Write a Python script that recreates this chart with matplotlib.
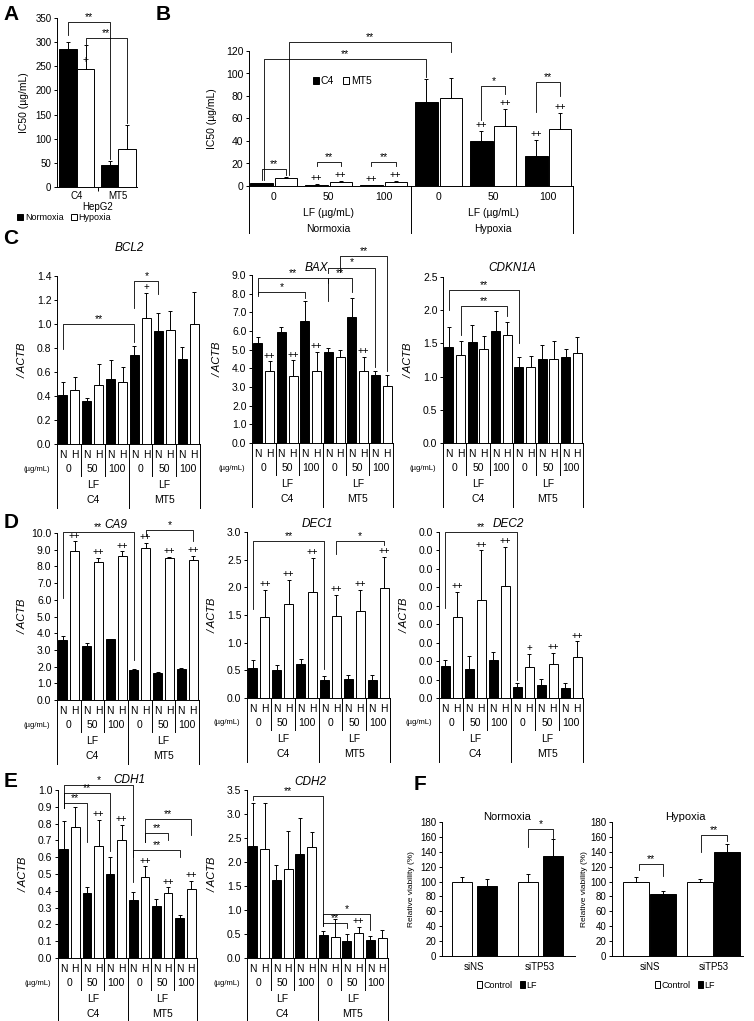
import numpy as np
import matplotlib
matplotlib.use("Agg")
import matplotlib.pyplot as plt
from matplotlib.patches import Patch

plt.rcParams['font.family'] = ['Liberation Sans', 'DejaVu Sans']

W, H = 754, 1021

# -- A : IC50 in HepG2
hepg2_lines = ['C4', 'MT5']
a_norm = [285, 45]
a_norm_err = [15, 8]
a_hyp = [245, 78]
a_hyp_err = [50, 50]

# -- B : IC50 vs LF dose
b_doses = ['0', '50', '100', '0', '50', '100']
b_c4 = [2.5, 1.0, 0.5, 75, 40, 27]
b_c4_err = [0.6, 0.5, 0.3, 20, 9, 14]
b_mt5 = [7.5, 3.5, 3.5, 78, 53, 51]
b_mt5_err = [0.8, 0.6, 0.6, 18, 15, 14]

# -- C/D/E : gene expression (N = normoxia, H = hypoxia)
cond_labels = ['N', 'H'] * 6
dose_labels = ['0', '50', '100'] * 2
cell_labels = ['C4', 'MT5']

bcl2_n = [0.41, 0.36, 0.54, 0.74, 0.94, 0.71]
bcl2_n_err = [0.11, 0.02, 0.16, 0.08, 0.15, 0.10]
bcl2_h = [0.45, 0.49, 0.52, 1.05, 0.95, 1.00]
bcl2_h_err = [0.11, 0.18, 0.12, 0.21, 0.16, 0.27]

bax_n = [5.35, 5.97, 6.56, 4.88, 6.74, 3.64]
bax_n_err = [0.35, 0.23, 1.07, 0.20, 1.01, 0.23]
bax_h = [3.87, 3.60, 3.87, 4.63, 3.87, 3.07]
bax_h_err = [0.50, 0.82, 1.00, 0.33, 0.76, 0.55]

cdkn1a_n = [1.44, 1.52, 1.69, 1.15, 1.27, 1.29]
cdkn1a_n_err = [0.30, 0.26, 0.30, 0.14, 0.20, 0.12]
cdkn1a_h = [1.32, 1.42, 1.62, 1.14, 1.26, 1.35]
cdkn1a_h_err = [0.22, 0.19, 0.20, 0.17, 0.28, 0.24]

ca9_n = [3.60, 3.25, 3.65, 1.78, 1.62, 1.88]
ca9_n_err = [0.25, 0.18, 0.03, 0.10, 0.04, 0.05]
ca9_h = [8.90, 8.25, 8.65, 9.10, 8.50, 8.40]
ca9_h_err = [0.60, 0.25, 0.25, 0.30, 0.05, 0.25]

dec1_n = [0.54, 0.50, 0.61, 0.32, 0.34, 0.33]
dec1_n_err = [0.14, 0.10, 0.10, 0.08, 0.08, 0.09]
dec1_h = [1.46, 1.70, 1.92, 1.48, 1.57, 1.99]
dec1_h_err = [0.50, 0.44, 0.61, 0.39, 0.39, 0.56]

dec2_n = [1.72, 1.59, 2.08, 0.60, 0.72, 0.56]
dec2_n_err = [0.32, 0.67, 0.42, 0.23, 0.29, 0.25]
dec2_h = [4.39, 5.30, 6.07, 1.68, 1.83, 2.22]
dec2_h_err = [1.36, 2.70, 2.12, 0.73, 0.63, 0.85]
dec2_ticklabels = ['0.0'] * 10

cdh1_n = [0.65, 0.385, 0.50, 0.345, 0.31, 0.24]
cdh1_n_err = [0.165, 0.04, 0.10, 0.05, 0.04, 0.015]
cdh1_h = [0.78, 0.665, 0.705, 0.485, 0.385, 0.41]
cdh1_h_err = [0.12, 0.155, 0.085, 0.06, 0.035, 0.05]

cdh2_n = [2.33, 1.63, 2.16, 0.48, 0.36, 0.38]
cdh2_n_err = [0.90, 0.31, 0.76, 0.08, 0.15, 0.07]
cdh2_h = [2.28, 1.86, 2.31, 0.44, 0.53, 0.41]
cdh2_h_err = [0.94, 0.79, 0.31, 0.37, 0.12, 0.18]

# -- F : relative viability
f_groups = ['siNS', 'siTP53']
f_norm_ctrl = [100, 100]
f_norm_ctrl_err = [6, 10]
f_norm_lf = [94, 134]
f_norm_lf_err = [10, 23]
f_hyp_ctrl = [100, 100]
f_hyp_ctrl_err = [6, 3]
f_hyp_lf = [83, 140]
f_hyp_lf_err = [4, 10]

TICK_FS = 7.5
LAB_FS = 7.5
LW = 0.7

fig = plt.figure(figsize=(W / 100, H / 100), dpi=100)


def px(x0, y0, x1, y1):
    return [x0 / W, 1 - y1 / H, (x1 - x0) / W, (y1 - y0) / H]


def base_axes(rect, fs=TICK_FS):
    ax = fig.add_axes(px(*rect))
    for s in ('top', 'right'):
        ax.spines[s].set_visible(False)
    for s in ('left', 'bottom'):
        ax.spines[s].set_linewidth(LW)
    ax.tick_params(axis='y', direction='out', length=2.5, width=LW,
                   labelsize=fs, pad=1.5)
    return ax


def bars(ax, x, vals, errs, face, width):
    ax.bar(x, vals, width=width, color=face, edgecolor='black', linewidth=LW, zorder=2)
    ax.errorbar(x, vals, yerr=[np.zeros(len(vals)), errs], fmt='none',
                ecolor='black', elinewidth=LW, capsize=1.5, capthick=LW, zorder=3)


def bracket(ax, x1, x2, top, b1, b2, label, fs=7.5):
    ax.plot([x1, x1, x2, x2], [b1, top, top, b2], color='black', lw=0.6,
            clip_on=False, zorder=4)
    ax.text((x1 + x2) / 2, top, label, ha='center', va='bottom',
            fontsize=fs, clip_on=False)


def below(ax, x, dy, s, fs=LAB_FS, **kw):
    ax.annotate(s, xy=(x, 0), xycoords=('data', 'axes fraction'),
                xytext=(0, -dy), textcoords='offset pixels', ha='center',
                va='center', fontsize=fs, annotation_clip=False, **kw)


def vline_below(ax, x, dy):
    frac = dy / ax.bbox.height
    ax.plot([x, x], [0, -frac], transform=ax.get_xaxis_transform(),
            color='black', lw=LW, clip_on=False)


def side_label(ax, s, dx, fs=7, **kw):
    ax.text(-dx / ax.bbox.width, 0.5, s, transform=ax.transAxes, rotation=90,
            ha='center', va='center', fontsize=fs, **kw)


def gene_panel(rect, name, n, n_err, h, h_err, ymax, step, title_xy,
               brackets=(), marks=(), ticklabels=None):
    ax = base_axes(rect)
    x = np.arange(12)
    bars(ax, x[0::2], n, n_err, 'black', 0.75)
    bars(ax, x[1::2], h, h_err, 'white', 0.75)
    ax.set_xlim(-0.5, 11.5)
    ax.set_ylim(0, ymax)
    ticks = np.arange(0, ymax + step / 2, step)
    ax.set_yticks(ticks)
    if ticklabels is None:
        ticklabels = ['%.1f' % t for t in ticks]
    ax.set_yticklabels(ticklabels)
    ax.set_xticks([])
    side_label(ax, '/ ACTB', 34, fs=8, fontstyle='italic')
    ax.text(title_xy[0], title_xy[1], name, ha='center', va='center',
            fontsize=8.5, fontstyle='italic', clip_on=False)
    # value labels below the axis
    vals = np.column_stack([n, h]).ravel()
    errs = np.column_stack([n_err, h_err]).ravel()
    for i, c in enumerate(cond_labels):
        below(ax, i, 11, c)
    for g, d in enumerate(dose_labels):
        below(ax, 2 * g + 0.5, 25, d)
    for k, cl in enumerate(cell_labels):
        below(ax, 6 * k + 2.5, 41, 'LF')
        below(ax, 6 * k + 2.5, 56, cl)
    ax.annotate('(µg/mL)', xy=(0, 0), xycoords='axes fraction', xytext=(-7, -25),
                textcoords='offset pixels', ha='right', va='center', fontsize=5.5,
                annotation_clip=False)
    for xd in (1.5, 3.5, 7.5, 9.5):
        vline_below(ax, xd, 32)
    for xd in (-0.5, 5.5, 11.5):
        vline_below(ax, xd, 64)
    for lab, i1, i2, top, b1, b2 in brackets:
        bracket(ax, i1, i2, top, b1, b2, lab)
    for i, s in marks:
        ax.text(i, vals[i] + errs[i] + ymax * 0.005, s, ha='center', va='bottom',
                fontsize=7, clip_on=False)
    return ax


# ---------------- Panel A
axA = base_axes((57, 18, 137, 187), fs=7)
ga = np.arange(2)
bars(axA, ga - 0.21, a_norm, a_norm_err, 'black', 0.42)
bars(axA, ga + 0.21, a_hyp, a_hyp_err, 'white', 0.42)
axA.set_xlim(-0.48, 1.45)
axA.set_ylim(0, 350)
axA.set_yticks(np.arange(0, 351, 50))
axA.set_xticks(ga)
axA.set_xticklabels(hepg2_lines, fontsize=7)
axA.tick_params(axis='x', length=0, pad=3)
axA.set_xticks([0.5], minor=True)
axA.tick_params(axis='x', which='minor', length=3, width=LW)
below(axA, 0.5, 20, 'HepG2', fs=7)
side_label(axA, 'IC50 (µg/mL)', 33, fs=7.5)
bracket(axA, -0.21, 0.79, 341, 315, 57, '**')
bracket(axA, 0.21, 1.21, 308, 296, 132, '**')
axA.text(0.21, 262, '+', ha='center', va='center', fontsize=7.5)
fig.legend(handles=[Patch(facecolor='black', edgecolor='black', lw=LW),
                    Patch(facecolor='white', edgecolor='black', lw=LW)],
           labels=['Normoxia', 'Hypoxia'], loc='center', ncol=2,
           bbox_to_anchor=(64 / W, 1 - 218 / H), frameon=False, fontsize=6.5,
           handlelength=0.7, handleheight=0.7, handletextpad=0.2,
           columnspacing=0.8, borderpad=0)

# ---------------- Panel B
axB = base_axes((249, 51, 573, 186))
gb = np.arange(6)
bars(axB, gb - 0.22, b_c4, b_c4_err, 'black', 0.42)
bars(axB, gb + 0.22, b_mt5, b_mt5_err, 'white', 0.40)
axB.set_xlim(-0.45, 5.45)
axB.set_ylim(0, 120)
axB.set_yticks(np.arange(0, 121, 20))
axB.set_xticks([])
for g, d in enumerate(b_doses):
    below(axB, g, 11, d)
below(axB, 1, 27, 'LF (µg/mL)')
below(axB, 4, 27, 'LF (µg/mL)')
below(axB, 1, 43, 'Normoxia')
below(axB, 4, 43, 'Hypoxia')
for xd in (-0.45, 2.5, 5.45):
    vline_below(axB, xd, 47)
side_label(axB, 'IC50 (µg/mL)', 37, fs=7.5)
bracket(axB, 0.27, 3.22, 128, 10, 119, '**')
bracket(axB, -0.18, 2.78, 113, 5, 97, '**')
bracket(axB, -0.22, 0.22, 14.8, 5, 9.8, '**')
bracket(axB, 0.78, 1.22, 21.6, 17.5, 17.5, '**')
bracket(axB, 1.78, 2.22, 21.6, 17.5, 17.5, '**')
bracket(axB, 3.78, 4.22, 89, 59, 82, '*')
bracket(axB, 4.78, 5.22, 92, 66, 80, '**')
for g in (1, 2, 4, 5):
    axB.text(g - 0.22, b_c4[g] + b_c4_err[g] + 1, '++', ha='center',
             va='bottom', fontsize=7)
    axB.text(g + 0.22, b_mt5[g] + b_mt5_err[g] + 1, '++', ha='center',
             va='bottom', fontsize=7)
axB.legend(handles=[Patch(facecolor='black', edgecolor='black', lw=LW),
                    Patch(facecolor='white', edgecolor='black', lw=LW)],
           labels=['C4', 'MT5'], loc='center', ncol=2,
           bbox_to_anchor=(342 / W, 1 - 81 / H), bbox_transform=fig.transFigure,
           frameon=False, fontsize=7.5, handlelength=0.6, handleheight=0.7,
           handletextpad=0.15, columnspacing=0.9, borderpad=0)

# ---------------- Panel C
gene_panel((57, 276, 200, 444), 'BCL2', bcl2_n, bcl2_n_err, bcl2_h, bcl2_h_err,
           1.4, 0.2, (5.6, 1.63),
           brackets=[('**', 0, 6, 1.0, 0.79, 0.85), ('*', 6, 8, 1.36, 1.13, 1.25)],
           marks=[(7, '+')])
gene_panel((252, 275, 393, 443), 'BAX', bax_n, bax_n_err, bax_h, bax_h_err,
           9.0, 1.0, (5.0, 9.37),
           brackets=[('**', 0, 6, 8.82, 8.0, 7.6), ('*', 0, 4, 8.1, 7.85, 7.75),
                     ('**', 6, 8, 8.85, 8.55, 8.1), ('*', 6, 10, 9.4, 9.1, 4.05),
                     ('**', 7, 11, 10.0, 9.15, 3.85)],
           marks=[(1, '++'), (3, '++'), (5, '++'), (9, '++')])
gene_panel((443, 277, 583, 443), 'CDKN1A', cdkn1a_n, cdkn1a_n_err, cdkn1a_h,
           cdkn1a_h_err, 2.5, 0.5, (5.4, 2.64),
           brackets=[('**', 0, 6, 2.31, 2.0, 1.5), ('**', 1, 5, 2.06, 1.62, 1.92)])

# ---------------- Panel D
gene_panel((57, 533, 199, 700), 'CA9', ca9_n, ca9_n_err, ca9_h, ca9_h_err,
           10.0, 1.0, (4.5, 10.46),
           brackets=[('**', 0, 6, 10.06, 6.1, 2.4), ('*', 7, 11, 10.2, 9.85, 9.55)],
           marks=[(i, '++') for i in (1, 3, 5, 7, 9, 11)])
gene_panel((247, 532, 390, 698), 'DEC1', dec1_n, dec1_n_err, dec1_h, dec1_h_err,
           3.0, 0.5, (5.4, 3.14),
           brackets=[('**', 0, 6, 2.84, 1.61, 0.52), ('*', 7, 11, 2.84, 2.61, 2.76)],
           marks=[(i, '++') for i in (1, 3, 5, 7, 9, 11)])
gene_panel((439, 532, 583, 698), 'DEC2', dec2_n, dec2_n_err, dec2_h, dec2_h_err,
           9.0, 1.0, (5.3, 9.42), ticklabels=dec2_ticklabels,
           brackets=[('**', 0, 6, 9.0, 4.9, 0.95)],
           marks=[(1, '++'), (3, '++'), (5, '++'), (7, '+'), (9, '++'), (11, '++')])

# ---------------- Panel E
gene_panel((58, 790, 197, 958), 'CDH1', cdh1_n, cdh1_n_err, cdh1_h, cdh1_h_err,
           1.0, 0.1, (5.7, 1.06),
           brackets=[('*', 0, 6, 1.03, 0.89, 0.45), ('**', 0, 4, 0.98, 0.89, 0.635),
                     ('**', 0, 2, 0.925, 0.89, 0.69), ('**', 7, 11, 0.828, 0.69, 0.733),
                     ('**', 7, 9, 0.743, 0.69, 0.703), ('**', 6, 10, 0.644, 0.60, 0.604)],
           marks=[(i, '++') for i in (3, 5, 7, 9, 11)])
gene_panel((247, 790, 388, 958), 'CDH2', cdh2_n, cdh2_n_err, cdh2_h, cdh2_h_err,
           3.5, 0.5, (4.9, 3.67),
           brackets=[('**', 0, 6, 3.37, 3.3, 0.66), ('*', 6, 10, 0.91, 0.73, 0.59),
                     ('**', 6, 8, 0.73, 0.66, 0.62)],
           marks=[(9, '++')])


# ---------------- Panel F
def viability(rect, title, ctrl, ctrl_err, lf, lf_err, offs, width, xlim, brs,
              title_x, leg_x, dx):
    ax = base_axes(rect, fs=7)
    gf = np.arange(2)
    bars(ax, gf + offs[0], ctrl, ctrl_err, 'white', width)
    bars(ax, gf + offs[1], lf, lf_err, 'black', width)
    ax.set_xlim(*xlim)
    ax.set_ylim(0, 180)
    ax.set_yticks(np.arange(0, 181, 20))
    ax.set_xticks(gf)
    ax.set_xticklabels(f_groups, fontsize=7)
    ax.tick_params(axis='x', length=0, pad=4)
    side_label(ax, 'Relative viability (%)', dx, fs=6)
    fig.text(title_x / W, 1 - 817 / H, title, ha='center', va='center', fontsize=8)
    for lab, x1, x2, top, b1, b2 in brs:
        bracket(ax, x1, x2, top, b1, b2, lab)
    fig.legend(handles=[Patch(facecolor='white', edgecolor='black', lw=LW),
                        Patch(facecolor='black', edgecolor='black', lw=LW)],
               labels=['Control', 'LF'], loc='center', ncol=2,
               bbox_to_anchor=(leg_x / W, 1 - 985 / H), frameon=False, fontsize=6.5,
               handlelength=0.6, handleheight=0.7, handletextpad=0.15,
               columnspacing=0.8, borderpad=0)
    return ax


viability((442, 822, 575, 956), 'Normoxia', f_norm_ctrl, f_norm_ctrl_err,
          f_norm_lf, f_norm_lf_err, (-0.18, 0.2), 0.31, (-0.48, 1.53),
          [('*', 0.82, 1.2, 170.6, 147, 158)], 507, 507, 30)
viability((612, 822, 743, 956), 'Hypoxia', f_hyp_ctrl, f_hyp_ctrl_err,
          f_hyp_lf, f_hyp_lf_err, (-0.22, 0.2), 0.41, (-0.6, 1.45),
          [('**', -0.17, 0.2, 123, 116, 107), ('**', 0.8, 1.2, 162, 140, 154)],
          685, 685, 27)

# -- panel letters
for letter, lx, ly in [('A', 11, 14), ('B', 163, 14), ('C', 11, 238),
                       ('D', 11, 522), ('E', 11, 781), ('F', 420, 784)]:
    fig.text(lx / W, 1 - ly / H, letter, fontsize=15, fontweight='bold',
             ha='center', va='center')

fig.savefig('out.png', dpi=100)
